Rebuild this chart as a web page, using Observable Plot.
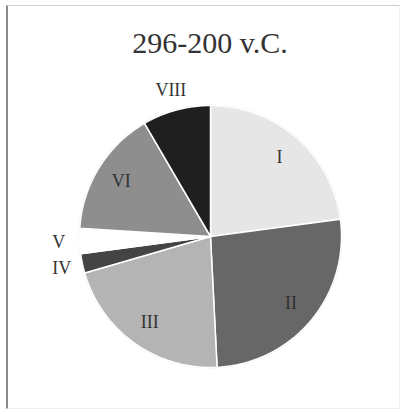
<!DOCTYPE html>
<html>
<head>
<meta charset="utf-8">
<script src="https://cdn.jsdelivr.net/npm/d3@7"></script>
<script src="https://cdn.jsdelivr.net/npm/@observablehq/plot@0.6"></script>
<style>
  html, body { margin: 0; padding: 0; background: #fff; }
  #wrap { position: relative; width: 408px; height: 414px; overflow: hidden; background: #fff; }
  #frame { position: absolute; left: 6px; top: 5px; width: 394px; height: 404px;
           border-left: 2px solid #8c8c8c; border-top: 1px solid #cfcfcf;
           border-right: 1px solid #f0f0f0; border-bottom: 1px solid #f0f0f0; box-sizing: border-box; }
  #title { position: absolute; left: 0; top: 28px; width: 420px; text-align: center;
           font-family: "Liberation Serif", "DejaVu Serif", serif; font-size: 30px; line-height: 30px; color: #333; }
  #chart { position: absolute; left: 0; top: 70px; }
</style>
</head>
<body>
<div id="wrap">
  <div id="frame"></div>
  <div id="title">296-200 v.C.</div>
  <div id="chart"></div>
</div>
<script>
const categories = ["I", "II", "III", "IV", "V", "VI", "VIII"];
const values = [22.9, 26.3, 21.3, 2.4, 3.1, 15.6, 8.4];
const colors = ["#e6e6e6", "#676767", "#b4b4b4", "#444444", "#ffffff", "#8e8e8e", "#1f1f1f"];

const total = d3.sum(values);
const slices = [];
let acc = 0;
categories.forEach((c, i) => {
  const a0 = acc / total * 2 * Math.PI;
  acc += values[i];
  const a1 = acc / total * 2 * Math.PI;
  slices.push({label: c, value: values[i], a0, a1});
});

// polygon points for each slice (center + arc)
const pts = [];
for (const s of slices) {
  pts.push({label: s.label, x: 0, y: 0});
  const n = Math.max(2, Math.ceil((s.a1 - s.a0) / (Math.PI / 180)));
  for (let k = 0; k <= n; k++) {
    const a = s.a0 + (s.a1 - s.a0) * k / n;
    pts.push({label: s.label, x: Math.sin(a), y: Math.cos(a)});
  }
  pts.push({label: s.label, x: 0, y: 0});
}

// outer outline
const outline = d3.range(0, 361).map(d => ({x: Math.sin(d * Math.PI / 180), y: Math.cos(d * Math.PI / 180)}));

// labels
const labels = slices.map(s => {
  const m = (s.a0 + s.a1) / 2;
  const r = s.value / total < 0.1 ? 1.16 : 0.8;
  return {label: s.label, x: r * Math.sin(m), y: r * Math.cos(m)};
});

const chart = Plot.plot({
  width: 408,
  height: 344,
  marginLeft: 79,
  marginRight: 67,
  marginTop: 35,
  marginBottom: 47,
  x: {domain: [-1, 1], axis: null},
  y: {domain: [-1, 1], axis: null},
  color: {domain: categories, range: colors},
  style: {background: "transparent"},
  marks: [
    Plot.line(outline, {x: "x", y: "y", stroke: "#d8d8d8", strokeWidth: 1.5}),
    Plot.line(pts, {x: "x", y: "y", z: "label", fill: "label", stroke: "#ffffff", strokeWidth: 1.5, strokeLinejoin: "round"}),
    Plot.text(labels, {x: "x", y: "y", text: "label", fontSize: 18, fill: "#333",
      fontFamily: "Liberation Serif, DejaVu Serif, serif"})
  ]
});
document.getElementById("chart").appendChild(chart);
</script>
</body>
</html>
